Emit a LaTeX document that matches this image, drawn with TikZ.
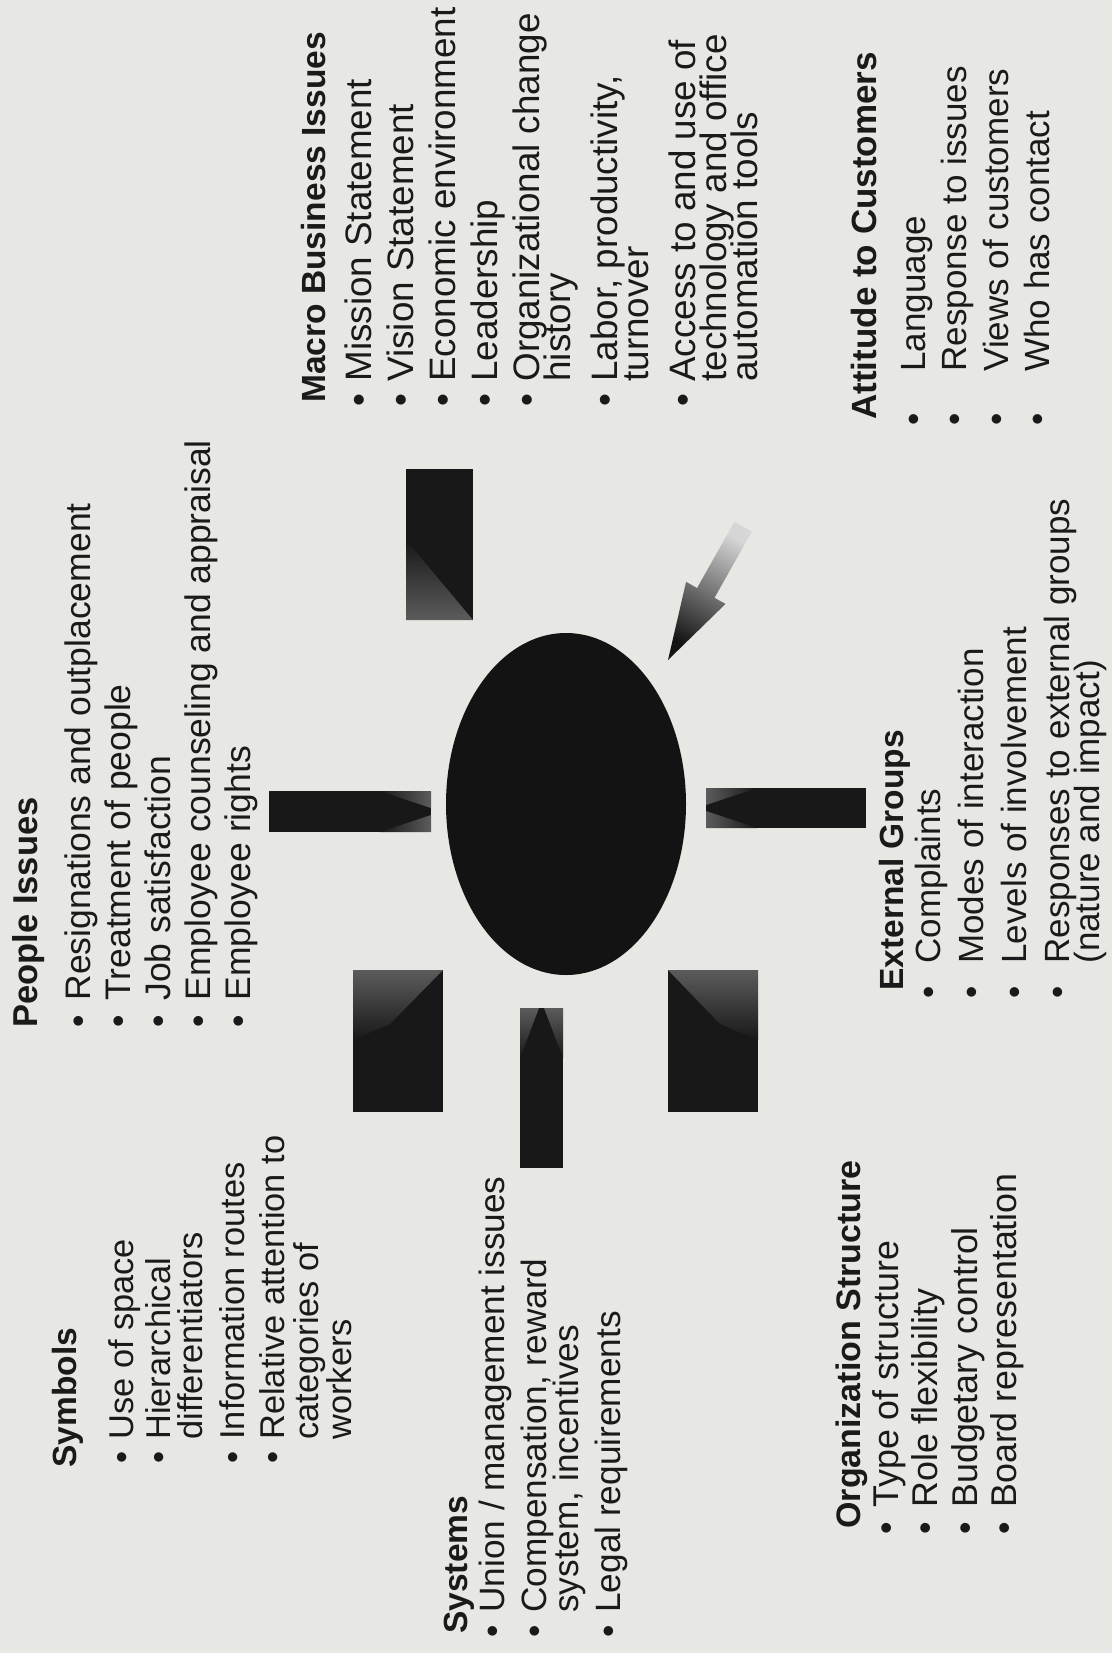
\documentclass[tikz,border=0pt]{standalone}
\usepackage{fontspec}
\setmainfont{Liberation Sans}
\usetikzlibrary{shapes.geometric}
\definecolor{paper}{RGB}{231,231,227}
\definecolor{ink}{RGB}{26,26,26}
\definecolor{boxfill}{RGB}{24,24,24}
\definecolor{glint}{RGB}{92,92,92}
\newdimen\tind \newdimen\tbg
\newcommand{\blk}[3]{\vtop{\baselineskip=0pt\lineskiplimit=-\maxdimen\lineskip=0pt\tind=#1\relax\tbg=#2\relax#3}}
\newcommand{\hd}[2]{\hbox{\fontsize{#1}{20}\selectfont\bfseries #2}}
\newcommand{\itm}[1]{\hbox{\hskip\tind\llap{\textbullet\hskip\tbg}#1}}
\newcommand{\cnt}[1]{\hbox{\hskip\tind #1}}
\newcommand{\lgap}[1]{\vskip #1pt\relax}
\begin{document}
\begin{tikzpicture}[x=0.5pt,y=-0.5pt,
  txt/.style={rotate=90,anchor=base west,inner sep=0pt,text=ink},
  bar/.style={fill=boxfill},
  hub/.style={ellipse,fill=boxfill!80!black,draw=none,inner sep=0pt,minimum width=120pt,minimum height=171pt}]
\fill[paper] (0,0) rectangle (1112,1653);
\useasboundingbox (0,0) rectangle (1112,1653);

% central ellipse
\node[hub] (hub) at (566,804) {};

% bars
\fill[bar] (269,791) rectangle (431,832);
\shade[left color=boxfill,right color=glint] (380,791) -- (431,791) -- (431,808) -- cycle;
\shade[left color=boxfill,right color=glint] (380,832) -- (431,832) -- (431,815) -- cycle;

\fill[bar] (706,788) rectangle (866,828);
\shade[right color=boxfill,left color=glint] (757,788) -- (706,788) -- (706,805) -- cycle;
\shade[right color=boxfill,left color=glint] (757,828) -- (706,828) -- (706,811) -- cycle;

\fill[bar] (406,469) rectangle (473,620);
\shade[bottom color=glint,top color=boxfill] (406,540) -- (406,620) -- (473,620) -- cycle;

\fill[bar] (353,970) rectangle (443,1112);
\shade[top color=glint,bottom color=boxfill] (353,970) -- (443,970) -- (390,1024) -- (353,1040) -- cycle;

\fill[bar] (668,970) rectangle (758,1112);
\shade[top color=glint,bottom color=boxfill] (758,970) -- (668,970) -- (720,1024) -- (758,1040) -- cycle;

\fill[bar] (520,1008) rectangle (563,1168);
\shade[top color=glint,bottom color=boxfill] (520,1008) -- (539,1008) -- (520,1058) -- cycle;
\shade[top color=glint,bottom color=boxfill] (544,1008) -- (563,1008) -- (563,1058) -- cycle;

% arrow toward the hub
\coordinate (tip) at (668,660);
\shade[top color=black!16,middle color=black!60,bottom color=black!92,shading angle=-29.4]
  (tip) -- (725.5,603.9) -- (714.5,597.8) -- (751.8,531.6) -- (734.4,521.8) -- (697.1,588.0) -- (686.1,581.8) -- cycle;

% text blocks
\node[txt,font=\fontsize{17.2}{20}\selectfont] (symbols) at (76,1468) {\blk{14pt}{6pt}{%
\hd{16.75}{Symbols}\lgap{28.5}%
\itm{Use of space}\lgap{18.5}%
\itm{Hierarchical}\lgap{16}%
\cnt{differentiators}\lgap{21}%
\itm{Information routes}\lgap{20}%
\itm{Relative attention to}\lgap{17}%
\cnt{categories of}\lgap{16.5}%
\cnt{workers}}};

\node[txt,font=\fontsize{17.75}{20}\selectfont] (people) at (37,1028) {\blk{13.5pt}{7pt}{%
\hd{17.25}{People Issues}\lgap{26.5}%
\itm{Resignations and outplacement}\lgap{20}%
\itm{Treatment of people}\lgap{20}%
\itm{Job satisfaction}\lgap{20}%
\itm{Employee counseling and appraisal}\lgap{20}%
\itm{Employee rights}}};

\node[txt,font=\fontsize{18.4}{20}\selectfont] (macro) at (325,403) {\blk{10.5pt}{6pt}{%
\hd{16.75}{Macro Business Issues}\lgap{23}%
\itm{Mission Statement}\lgap{21}%
\itm{Vision Statement}\lgap{21}%
\itm{Economic environment}\lgap{21}%
\itm{Leadership}\lgap{21}%
\itm{Organizational change}\lgap{15.5}%
\cnt{history}\lgap{23.5}%
\itm{Labor, productivity,}\lgap{15.5}%
\cnt{turnover}\lgap{23.5}%
\itm{Access to and use of}\lgap{15.5}%
\cnt{technology and office}\lgap{15.5}%
\cnt{automation tools}}};

\node[txt,font=\fontsize{17.6}{20}\selectfont] (systems) at (467,1634) {\blk{10.5pt}{6.5pt}{%
\hd{16.75}{Systems}\lgap{18.5}%
\itm{Union / management issues}\lgap{21}%
\itm{Compensation, reward}\lgap{16}%
\cnt{system, incentives}\lgap{21}%
\itm{Legal requirements}}};

\node[txt,font=\fontsize{17.9}{20}\selectfont] (org) at (860,1529) {\blk{10.5pt}{7pt}{%
\hd{17}{Organization Structure}\lgap{19}%
\itm{Type of structure}\lgap{19.75}%
\itm{Role flexibility}\lgap{19.75}%
\itm{Budgetary control}\lgap{19.75}%
\itm{Board representation}}};

\node[txt,font=\fontsize{17.5}{20}\selectfont] (external) at (903,991) {\blk{13.5pt}{11.4pt}{%
\hd{16.75}{External Groups}\lgap{18.5}%
\itm{Complaints}\lgap{21.5}%
\itm{Modes of interaction}\lgap{21.5}%
\itm{Levels of involvement}\lgap{21.5}%
\itm{Responses to external groups}\lgap{15}%
\cnt{(nature and impact)}}};

\node[txt,font=\fontsize{17.5}{20}\selectfont] (attitude) at (876,420) {\blk{24pt}{20.94pt}{%
\hd{17.5}{Attitude to Customers}\lgap{24.5}%
\itm{Language}\lgap{20.8}%
\itm{Response to issues}\lgap{20.8}%
\itm{Views of customers}\lgap{20.8}%
\itm{Who has contact}}};
\end{tikzpicture}
\end{document}
